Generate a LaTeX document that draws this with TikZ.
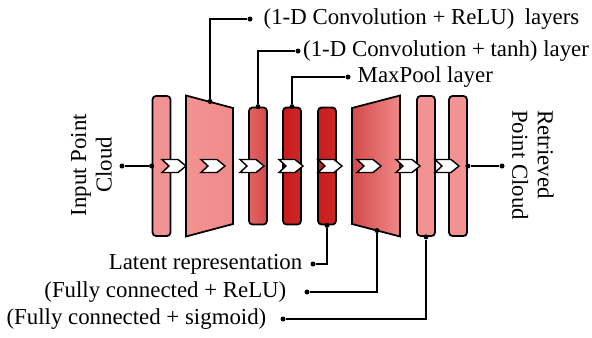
\documentclass[tikz,border=0pt]{standalone}
\usepackage{fontspec}
\setmainfont{Liberation Serif}
\usetikzlibrary{positioning}
\definecolor{lightred}{HTML}{F39292}
\definecolor{midred}{HTML}{E26464}
\definecolor{deepred}{HTML}{D44A4A}
\definecolor{darkred}{HTML}{C81C1C}
\begin{document}
\begin{tikzpicture}[
  font=\fontsize{13}{14.5}\selectfont,
  layer/.style={draw, line width=1pt, rounded corners=2pt, minimum width=0.36cm, inner sep=0pt},
  tallbar/.style={layer, minimum height=2.80cm},
  shortbar/.style={layer, minimum height=2.34cm},
  chev/.style={draw, fill=white, line width=0.8pt},
  lead/.style={line width=0.7pt},
  dot/.style={circle, fill, inner sep=0pt, minimum size=0.1cm},
  lbl/.style={inner sep=0pt}
]
\useasboundingbox (0,0) rectangle (11.84,6.74);

% Encoder
\node[tallbar, fill=lightred] (inbar) at (3.23,3.42) {};
\draw[line width=1pt, left color=lightred, right color=lightred!85!midred]
  (3.72,4.83) -- (4.66,4.58) -- (4.66,2.26) -- (3.72,2.01) -- cycle;
\node[shortbar, left color=midred, right color=deepred] (tanhbar) at (5.16,3.42) {};
\node[shortbar, left color=darkred, right color=darkred!85!midred] (poolbar) at (5.84,3.42) {};

% Latent
\node[shortbar, left color=darkred, right color=darkred!85!midred] (latbar) at (6.54,3.42) {};

% Decoder
\draw[line width=1pt, left color=deepred, right color=lightred!80!midred]
  (7.04,4.58) -- (8.00,4.83) -- (8.00,2.01) -- (7.04,2.26) -- cycle;
\node[tallbar, fill=lightred] (fcbar) at (8.52,3.42) {};
\node[tallbar, fill=lightred] (outbar) at (9.16,3.42) {};

% Flow chevrons
\foreach \x in {3.48,4.26,5.04,5.82,6.60,7.38,8.16,8.94}
  \draw[chev] (\x-0.24,3.55) -- (\x+0.08,3.55) -- (\x+0.24,3.42) -- (\x+0.08,3.29)
    -- (\x-0.24,3.29) -- (\x-0.10,3.42) -- cycle;

% Input and output
\node[dot] (indot) at (2.44,3.42) {};
\node[dot] (inend) at (inbar.west) {};
\draw[lead] (indot) -- (inend);
\node[dot] (outend) at (outbar.east) {};
\node[dot] (outdot) at (10.04,3.42) {};
\draw[lead] (outend) -- (outdot);
\node[rotate=90, align=center] (inlbl) at (1.83,3.44) {Input Point\\Cloud};
\node[rotate=-90, align=left] (outlbl) at (10.66,3.44) {Retrieved\\Point Cloud};

% Upper callouts
\node[dot] (enctop) at (4.20,4.71) {};
\node[dot] (tanhtop) at (tanhbar.north) {};
\node[dot] (pooltop) at (poolbar.north) {};
\node[dot] (reludot) at (5.00,6.36) {};
\node[dot] (tanhdot) at (5.96,5.72) {};
\node[dot] (pooldot) at (6.96,5.20) {};
\node[lbl, right=0.21cm of reludot] (relulbl) {(1-D Convolution + ReLU)\hspace{0.45em}layers};
\node[lbl, right=0.04cm of tanhdot] (tanhlbl) {(1-D Convolution + tanh) layer};
\node[lbl, right=0.13cm of pooldot] (poollbl) {MaxPool layer};
\draw[lead] (enctop) |- (reludot);
\draw[lead] (tanhtop) |- (tanhdot);
\draw[lead] (pooltop) |- (pooldot);

% Lower callouts
\node[dot] (latbot) at (latbar.south) {};
\node[dot] (decbot) at (7.54,2.13) {};
\node[dot] (fcbot) at (fcbar.south) {};
\node[dot] (latdot) at (6.26,1.46) {};
\node[dot] (decdot) at (6.14,0.90) {};
\node[dot] (fcdot) at (5.66,0.36) {};
\node[lbl, left=0.15cm of latdot] (latlbl) {Latent representation};
\node[lbl, left=0.35cm of decdot] (declbl) {(Fully connected + ReLU)};
\node[lbl, left=0.27cm of fcdot] (fclbl) {(Fully connected + sigmoid)};
\draw[lead] (latbot) |- (latdot);
\draw[lead] (decbot) |- (decdot);
\draw[lead] (fcbot) |- (fcdot);
\end{tikzpicture}
\end{document}
